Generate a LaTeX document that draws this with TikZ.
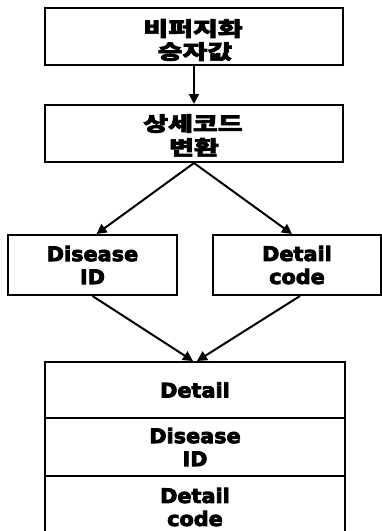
\documentclass[tikz,border=0pt]{standalone}
\usepackage{fontspec}
\setmainfont{Noto Sans CJK KR}
\newfontfamily\krf{Noto Sans CJK KR}[BoldFeatures={FakeStretch=1.35,FakeBold=3.5}]
\newfontfamily\latf{DejaVu Sans}[BoldFeatures={FakeStretch=1.04,FakeBold=4}]
\usetikzlibrary{arrows.meta}
\begin{document}
\begin{tikzpicture}[x=1pt,y=1pt,
  box/.style={draw=black,line width=2pt,fill=white,align=center,inner sep=0pt},
  kr/.style={anchor=base,inner sep=0pt,font=\krf\fontsize{20}{24}\selectfont\bfseries},
  lat/.style={font=\latf\fontsize{20}{23}\selectfont\bfseries},
  arr/.style={line width=2pt,-{Triangle[length=10pt,width=10pt]}}]
\useasboundingbox (0,0) rectangle (382,-531);
\begin{scope}
\clip (0,0) rectangle (382,-531);
\node[box,minimum width=298pt,minimum height=57pt] (top) at (194,-36.5) {};
\node[kr] (topa) at (193,-36) {비퍼지화};
\node[kr] (topb) at (195,-59) {승자값};
\node[box,minimum width=298pt,minimum height=57pt] (conv) at (194,-133.5) {};
\node[kr] (conva) at (193,-131) {상세코드};
\node[kr] (convb) at (194,-155) {변환};
\node[box,lat,minimum width=169pt,minimum height=60pt] (dis) at (92.5,-265) {Disease\\ID};
\node[box,lat,minimum width=168pt,minimum height=60pt] (det) at (297,-265) {Detail\\code};
\node[box,lat,minimum width=300pt,minimum height=56pt] (b1) at (195,-390) {Detail};
\node[box,lat,minimum width=300pt,minimum height=58pt] (b2) at (195,-447) {Disease\\ID};
\node[box,lat,minimum width=300pt,minimum height=62pt] (b3) at (195,-507) {Detail\\code};
\end{scope}
\draw[arr] (top.south) -- (conv.north);
\draw[arr] (conv.south) -- ([xshift=4pt]dis.north);
\draw[arr] (conv.south) -- ([xshift=-5pt]det.north);
\draw[arr] ([xshift=0pt]dis.south) -- ([xshift=-2pt]b1.north);
\draw[arr] ([xshift=3pt]det.south) -- ([xshift=2pt]b1.north);
\end{tikzpicture}
\end{document}
